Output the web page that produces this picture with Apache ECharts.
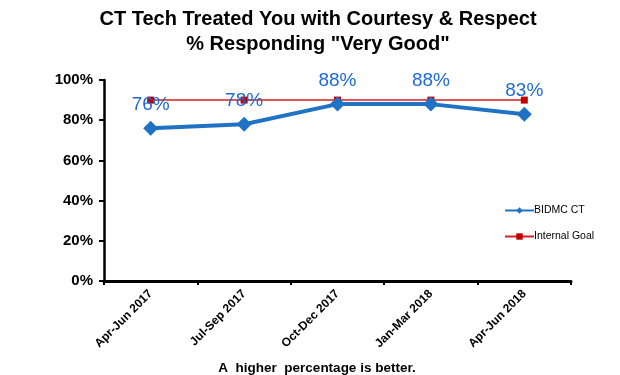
<!DOCTYPE html>
<html>
<head>
  <meta charset="utf-8" />
  <title>CT Tech Treated You with Courtesy &amp; Respect</title>
  <script src="https://cdn.jsdelivr.net/npm/echarts@6/dist/echarts.min.js"></script>
  <style>
    html, body { margin: 0; padding: 0; background: #fff; }
    #main { width: 620px; height: 375px; }
  </style>
</head>
<body>
<div id="main"></div>
<script>
  // 数据
  var quarters = ['Apr-Jun 2017', 'Jul-Sep 2017', 'Oct-Dec 2017', 'Jan-Mar 2018', 'Apr-Jun 2018'];
  var bidmcCT = [76, 78, 88, 88, 83];
  var internalGoal = [90, 90, 90, 90, 90];
  var yTicks = [0, 20, 40, 60, 80, 100];

  var font = 'Arial, "Liberation Sans", sans-serif';
  var myChart = echarts.init(document.getElementById('main'));

  var option = {
    backgroundColor: '#fff',
    textStyle: { fontFamily: font },
    title: [{
      text: 'CT Tech Treated You with Courtesy & Respect\n% Responding "Very Good"',
      left: 313, top: 2, textAlign: 'center',
      textStyle: { fontSize: 20, fontWeight: 'bold', color: '#000', lineHeight: 25, fontFamily: font }
    }, {
      text: 'A  higher  percentage is better.',
      left: 312, top: 356, textAlign: 'center',
      textStyle: { fontSize: 13.5, fontWeight: 'bold', color: '#000', fontFamily: font }
    }],
    legend: {
      orient: 'vertical',
      left: 499, top: 200,
      itemWidth: 29, itemHeight: 8, itemGap: 15,
      textStyle: { fontSize: 10.5, color: '#000', padding: [0, 0, 0, -5], fontFamily: font },
      data: ['BIDMC CT', 'Internal Goal']
    },
    grid: { left: 104, right: 49, top: 80, bottom: 94 },
    xAxis: {
      type: 'category',
      data: quarters,
      boundaryGap: true,
      axisLine: { lineStyle: { color: '#000', width: 3 } },
      axisTick: { show: true, length: 4, lineStyle: { color: '#000', width: 2 } },
      axisLabel: { rotate: 45, margin: 11, fontSize: 12, fontWeight: 'bold', color: '#000', fontFamily: font }
    },
    yAxis: {
      type: 'value',
      min: yTicks[0], max: yTicks[yTicks.length - 1], interval: 20,
      axisLine: { show: true, lineStyle: { color: '#000', width: 2.5 } },
      axisTick: { show: true, length: 5, lineStyle: { color: '#000', width: 2 } },
      splitLine: { show: false },
      axisLabel: { formatter: '{value}%', margin: 11, fontSize: 15, fontWeight: 'bold', color: '#000', fontFamily: font }
    },
    series: [{
      name: 'Internal Goal',
      type: 'line',
      data: internalGoal,
      symbol: 'rect', symbolSize: 7,
      itemStyle: { color: '#c00000' },
      lineStyle: { color: '#d42020', width: 1.5 },
      z: 2
    }, {
      name: 'BIDMC CT',
      type: 'line',
      data: bidmcCT,
      symbol: 'diamond', symbolSize: 15,
      itemStyle: { color: '#1f72c4' },
      lineStyle: { color: '#1f72c4', width: 4 },
      label: {
        show: true, position: 'top', distance: 6,
        formatter: '{c}%', fontSize: 19, color: '#1d6bd2', fontFamily: font
      },
      z: 3
    }]
  };
  myChart.setOption(option);
</script>
</body>
</html>
